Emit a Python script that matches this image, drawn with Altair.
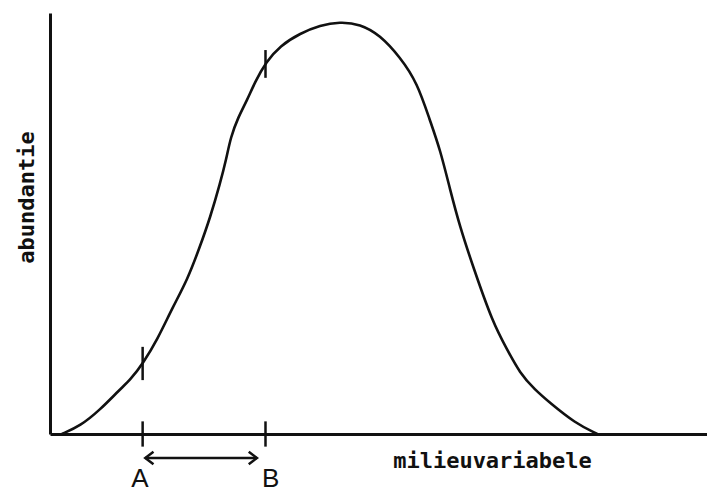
import altair as alt
import pandas as pd

# Response curve of a species along an environmental gradient
curve_x = [1.8, 4.6, 7.6, 10.7, 12.2, 14.2, 16.3, 18.7, 20.9, 22.8, 24.4, 25.9, 26.8,
           27.5, 28.6, 30.0, 31.2, 32.9, 35.0, 38.1, 41.1, 44.1, 47.2, 50.2, 53.3,
           55.9, 57.8, 59.4, 60.9, 62.4, 64.4, 67.4, 69.6, 71.5, 73.8, 76.1, 79.9, 83.3]
curve_y = [0.0, 1.9, 5.7, 10.7, 12.8, 16.9, 22.3, 30.2, 36.6, 44.4, 51.5, 59.6, 65.1,
           70.5, 75.1, 79.3, 83.6, 88.4, 92.2, 95.2, 97.1, 97.9, 97.4, 94.8, 89.5,
           83.4, 74.6, 67.5, 58.0, 49.2, 39.7, 26.4, 20.0, 14.5, 10.5, 7.4, 2.6, 0.0]

# Points A and B on the gradient, with the short marks crossing the curve
marker_names = ["A", "B"]
marker_x = [14.1, 32.8]
marker_curve_lo = [12.8, 84.6]
marker_curve_hi = [20.7, 91.2]
label_x = [13.7, 33.6]

# Double arrow spanning the A-B interval
arrow_from = 14.5
arrow_to = 31.5
arrow_y = -5.7

INK = "#111111"
MONO = "DejaVu Sans Mono"

curve = pd.DataFrame({"x": curve_x, "y": curve_y})
markers = pd.DataFrame({
    "name": marker_names,
    "x": marker_x,
    "lo": marker_curve_lo,
    "hi": marker_curve_hi,
    "lx": label_x,
})

xs = alt.Scale(domain=[0, 100], nice=False, zero=False)
ys = alt.Scale(domain=[0, 100], nice=False, zero=False)

x_axis = alt.Axis(
    title="milieuvariabele", domain=True, domainColor=INK, domainWidth=3,
    ticks=False, labels=False, grid=False,
    titleFont=MONO, titleFontWeight="bold", titleFontSize=22, titleColor=INK,
    titleX=442, titleY=33, titleBaseline="alphabetic", titleAlign="center",
)
y_axis = alt.Axis(
    title="abundantie", domain=True, domainColor=INK, domainWidth=3,
    ticks=False, labels=False, grid=False,
    titleFont=MONO, titleFontWeight="bold", titleFontSize=22, titleColor=INK,
    titleX=-17, titleY=184, titleBaseline="alphabetic", titleAlign="center",
    titleAngle=270,
)

# smooth B-spline through the read-off points
line = alt.Chart(curve).mark_line(
    color=INK, strokeWidth=2.6, interpolate="basis"
).encode(
    x=alt.X("x:Q", scale=xs, axis=x_axis),
    y=alt.Y("y:Q", scale=ys, axis=y_axis),
)

curve_ticks = alt.Chart(markers).mark_rule(color=INK, strokeWidth=2.5).encode(
    x="x:Q", y="lo:Q", y2="hi:Q"
)

axis_ticks = alt.Chart(markers).transform_calculate(
    a="-3", b="3"
).mark_rule(color=INK, strokeWidth=2.5).encode(
    x="x:Q", y="a:Q", y2="b:Q"
)

letters = alt.Chart(markers).transform_calculate(
    ty="-12.6"
).mark_text(
    font="Liberation Sans", fontSize=26, color=INK, baseline="alphabetic", align="center"
).encode(
    x="lx:Q", y="ty:Q", text="name:N"
)

arrow_df = pd.DataFrame({"x1": [arrow_from], "x2": [arrow_to], "y": [arrow_y]})
shaft = alt.Chart(arrow_df).mark_rule(color=INK, strokeWidth=2.5).encode(
    x="x1:Q", x2="x2:Q", y="y:Q"
)
head_left = alt.Chart(arrow_df).mark_point(
    shape="M1.3,-1L0,0L1.3,1", filled=False, color=INK, strokeWidth=2.5,
    size=160, opacity=1,
).encode(x="x1:Q", y="y:Q")
head_right = alt.Chart(arrow_df).mark_point(
    shape="M-1.3,-1L0,0L-1.3,1", filled=False, color=INK, strokeWidth=2.5,
    size=160, opacity=1,
).encode(x="x2:Q", y="y:Q")

chart = alt.layer(
    line, curve_ticks, axis_ticks, shaft, head_left, head_right, letters
).properties(
    width=657, height=421,
    autosize=alt.AutoSizeParams(type="none"),
    padding={"left": 50, "top": 13, "right": 0, "bottom": 60},
    background="white",
).configure_view(stroke=None)

chart.save("out.html", embed_options={"renderer": "svg", "actions": False})
